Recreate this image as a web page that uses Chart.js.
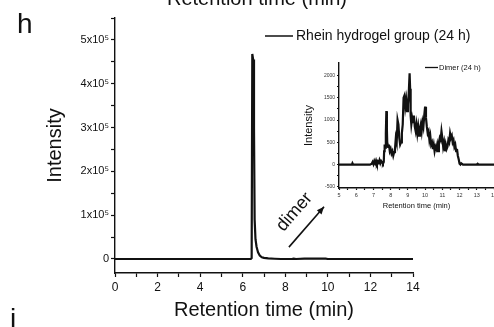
<!DOCTYPE html>
<html>
<head>
<meta charset="utf-8">
<script src="https://cdn.jsdelivr.net/npm/chart.js@4"></script>
<style>
  html, body { margin: 0; padding: 0; background: #fff; }
  #wrap { position: relative; width: 494px; height: 327px; overflow: hidden; }
  #mainChart { position: absolute; left: 0; top: 0; }
  #insetChart { position: absolute; left: 300px; top: 55px; }
</style>
</head>
<body>
<div id="wrap">
  <canvas id="mainChart" width="494" height="327"></canvas>
  <canvas id="insetChart" width="204" height="160"></canvas>
</div>
<script>
// main chromatogram
const mainTime = [0, 6.38, 6.42, 6.45, 6.49, 6.53, 6.56, 6.6, 6.65, 6.72, 6.8, 6.9, 7.0, 7.2, 7.5, 7.8, 8.3, 8.4, 8.5, 8.9, 9.1, 9.4, 9.6, 9.9, 10.0, 10.2, 14];
const mainIntensity = [0, 0, 2000, 468000, 455000, 300000, 90000, 45000, 28000, 15000, 8000, 4000, 2500, 1200, 500, 0, 0, 900, 0, 700, 1000, 600, 900, 700, 0, 0, 0];
const mainXTicks = [0, 1, 2, 3, 4, 5, 6, 7, 8, 9, 10, 11, 12, 13, 14];
const mainYTicks = [0, 50000, 100000, 150000, 200000, 250000, 300000, 350000, 400000, 450000, 500000, 550000];

// inset: dimer region
const dimerTime = [5.0, 5.75, 5.78, 5.82, 6.8, 6.9, 6.95, 7.0, 7.05, 7.1, 7.15, 7.2, 7.25, 7.3, 7.35, 7.4, 7.45, 7.5, 7.55, 7.6,
  7.62, 7.65, 7.68, 7.72, 7.75, 7.78, 7.8, 7.85, 7.9, 7.95, 8.0, 8.05, 8.1, 8.15, 8.2, 8.25, 8.3, 8.35, 8.4, 8.45,
  8.5, 8.55, 8.6, 8.65, 8.7, 8.75, 8.8, 8.85, 8.9, 8.95, 9.0, 9.05, 9.1, 9.13, 9.16, 9.2, 9.25, 9.3, 9.35, 9.4,
  9.45, 9.5, 9.55, 9.6, 9.65, 9.7, 9.75, 9.8, 9.85, 9.9, 9.95, 10.0, 10.05, 10.1, 10.15, 10.2, 10.25, 10.3, 10.35, 10.4,
  10.45, 10.5, 10.55, 10.6, 10.65, 10.7, 10.75, 10.8, 10.85, 10.9, 10.95, 11.0, 11.05, 11.1, 11.15, 11.2, 11.25, 11.3, 11.35, 11.4,
  11.45, 11.5, 11.55, 11.6, 11.65, 11.7, 11.75, 11.8, 11.85, 11.9, 11.95, 12.0, 12.05, 12.1, 12.2, 13.0, 13.05, 13.1, 14.0];
const dimerIntensity = [0, 0, 30, 0, 0, 20, 60, 10, 80, 30, 90, 20, 70, 40, 100, 30, 80, 50, 20, 60,
  300, 450, 380, 700, 1200, 800, 500, 400, 450, 300, 350, 250, 300, 200, 280, 350, 600, 500, 1000, 900,
  600, 450, 500, 700, 900, 1500, 1550, 1300, 1450, 1200, 1350, 1600, 2050, 1700, 1100, 900, 1050, 950, 1100, 850,
  750, 900, 700, 850, 650, 800, 900, 750, 950, 850, 1100, 1300, 1050, 850, 700, 750, 550, 650, 450, 500,
  350, 450, 300, 400, 350, 450, 300, 500, 600, 550, 750, 600, 400, 500, 300, 450, 350, 400, 550, 500,
  700, 600, 650, 500, 550, 400, 450, 300, 350, 200, 120, 20, 0, 30, 0, 0, 20, 0, 0];
const insetXTicks = [5, 5.5, 6, 6.5, 7, 7.5, 8, 8.5, 9, 9.5, 10, 10.5, 11, 11.5, 12, 12.5, 13, 13.5, 14];
const insetYTicks = [-500, -250, 0, 250, 500, 750, 1000, 1250, 1500, 1750, 2000];

const FONT = "'Liberation Sans', Arial, sans-serif";
const INK = "#111";

function toPoints(xs, ys) {
  return xs.map((x, i) => ({ x, y: ys[i] }));
}

function fixedTicks(list) {
  return scale => { scale.ticks = list.map(v => ({ value: v })); };
}

function supLabel(v) {
  if (v === 0) return "0";
  return (v / 100000) + "x10\u2075";
}

// legend, panel letters, cut-off title, "dimer" arrow
const mainDecor = {
  id: "mainDecor",
  afterDraw(chart) {
    const ctx = chart.ctx;
    const x = chart.scales.x, y = chart.scales.y;
    ctx.save();
    ctx.fillStyle = INK;
    ctx.strokeStyle = INK;

    ctx.font = "28px " + FONT;
    ctx.textBaseline = "alphabetic";
    ctx.textAlign = "left";
    ctx.fillText("h", 17, 33);
    ctx.fillText("j", 10, 328);

    ctx.font = "20px " + FONT;
    ctx.textAlign = "center";
    ctx.fillText("Retention time (min)", 257, 5);

    ctx.lineWidth = 1.5;
    ctx.beginPath();
    ctx.moveTo(265, 36);
    ctx.lineTo(293, 36);
    ctx.stroke();
    ctx.font = "14px " + FONT;
    ctx.textAlign = "left";
    ctx.textBaseline = "middle";
    ctx.fillText("Rhein hydrogel group (24 h)", 296, 36);

    // arrow
    const x0 = x.getPixelForValue(8.17), y0 = y.getPixelForValue(27000);
    const x1 = x.getPixelForValue(9.82), y1 = y.getPixelForValue(119000);
    const ang = Math.atan2(y1 - y0, x1 - x0);
    ctx.lineWidth = 1.6;
    ctx.beginPath();
    ctx.moveTo(x0, y0);
    ctx.lineTo(x1, y1);
    ctx.stroke();
    ctx.beginPath();
    ctx.moveTo(x1, y1);
    ctx.lineTo(x1 - 8 * Math.cos(ang - 0.4), y1 - 8 * Math.sin(ang - 0.4));
    ctx.lineTo(x1 - 8 * Math.cos(ang + 0.4), y1 - 8 * Math.sin(ang + 0.4));
    ctx.closePath();
    ctx.fill();

    ctx.translate(x.getPixelForValue(8.43), y.getPixelForValue(107000));
    ctx.rotate(-49 * Math.PI / 180);
    ctx.font = "18px " + FONT;
    ctx.textAlign = "center";
    ctx.fillText("dimer", 0, 0);
    ctx.restore();
  }
};

const insetDecor = {
  id: "insetDecor",
  afterDraw(chart) {
    const ctx = chart.ctx;
    ctx.save();
    ctx.strokeStyle = INK;
    ctx.fillStyle = INK;
    ctx.lineWidth = 1.3;
    ctx.beginPath();
    ctx.moveTo(125, 12.5);
    ctx.lineTo(138, 12.5);
    ctx.stroke();
    ctx.font = "7.5px " + FONT;
    ctx.textBaseline = "middle";
    ctx.fillText("Dimer (24 h)", 139, 12.5);
    ctx.restore();
  }
};

function axisCommon(tickLen) {
  return {
    border: { display: true, color: INK, width: 1.4 },
    grid: { display: true, drawOnChartArea: false, drawTicks: true, tickLength: tickLen, tickColor: INK, tickWidth: 1.2 }
  };
}

new Chart(document.getElementById("mainChart"), {
  type: "line",
  data: {
    datasets: [{
      data: toPoints(mainTime, mainIntensity),
      borderColor: INK,
      borderWidth: 2.2,
      pointRadius: 0,
      tension: 0
    }]
  },
  options: {
    responsive: false,
    animation: false,
    events: [],
    layout: { padding: { left: 38, right: 81, top: 18, bottom: 0 } },
    plugins: { legend: { display: false }, tooltip: { enabled: false } },
    scales: {
      x: {
        type: "linear",
        min: 0, max: 14,
        ...axisCommon(4),
        afterBuildTicks: fixedTicks(mainXTicks),
        afterFit: s => { s.height = 54; },
        ticks: {
          color: INK, font: { family: FONT, size: 12 }, padding: 3, maxRotation: 0, autoSkip: false,
          callback: v => (v % 2 === 0 ? String(v) : "")
        },
        title: { display: true, text: "Retention time (min)", color: INK, font: { family: FONT, size: 20 }, padding: { bottom: 5 } }
      },
      y: {
        type: "linear",
        min: -32000, max: 550000,
        ...axisCommon(4),
        afterBuildTicks: fixedTicks(mainYTicks),
        afterFit: s => { s.width = 77; },
        ticks: {
          color: INK, font: { family: FONT, size: 11 }, padding: 2, autoSkip: false,
          callback: v => (v % 100000 === 0 ? supLabel(v) : "")
        },
        title: { display: true, text: "Intensity", color: INK, font: { family: FONT, size: 20 }, padding: { top: 5 } }
      }
    }
  },
  plugins: [mainDecor]
});

new Chart(document.getElementById("insetChart"), {
  type: "line",
  data: {
    datasets: [{
      data: toPoints(dimerTime, dimerIntensity),
      borderColor: INK,
      borderWidth: 2.2,
      pointRadius: 0,
      tension: 0
    }]
  },
  options: {
    responsive: false,
    animation: false,
    events: [],
    layout: { padding: { left: 2, right: 10, top: 8, bottom: 0 } },
    plugins: { legend: { display: false }, tooltip: { enabled: false } },
    scales: {
      x: {
        type: "linear",
        min: 5, max: 14,
        ...axisCommon(2),
        afterBuildTicks: fixedTicks(insetXTicks),
        afterFit: s => { s.height = 27; },
        ticks: {
          color: "#333", font: { family: FONT, size: 5.5 }, padding: 2, maxRotation: 0, autoSkip: false,
          callback: v => (Number.isInteger(v) ? String(v) : "")
        },
        title: { display: true, text: "Retention time (min)", color: INK, font: { family: FONT, size: 7.5 }, padding: { bottom: 5 } }
      },
      y: {
        type: "linear",
        min: -525, max: 2280,
        ...axisCommon(2),
        afterBuildTicks: fixedTicks(insetYTicks),
        afterFit: s => { s.width = 37; },
        ticks: {
          color: "#333", font: { family: FONT, size: 5 }, padding: 2, autoSkip: false,
          callback: v => (v % 500 === 0 ? String(v) : "")
        },
        title: { display: true, text: "Intensity", color: INK, font: { family: FONT, size: 11 }, padding: { top: 0 } }
      }
    }
  },
  plugins: [insetDecor]
});
</script>
</body>
</html>
